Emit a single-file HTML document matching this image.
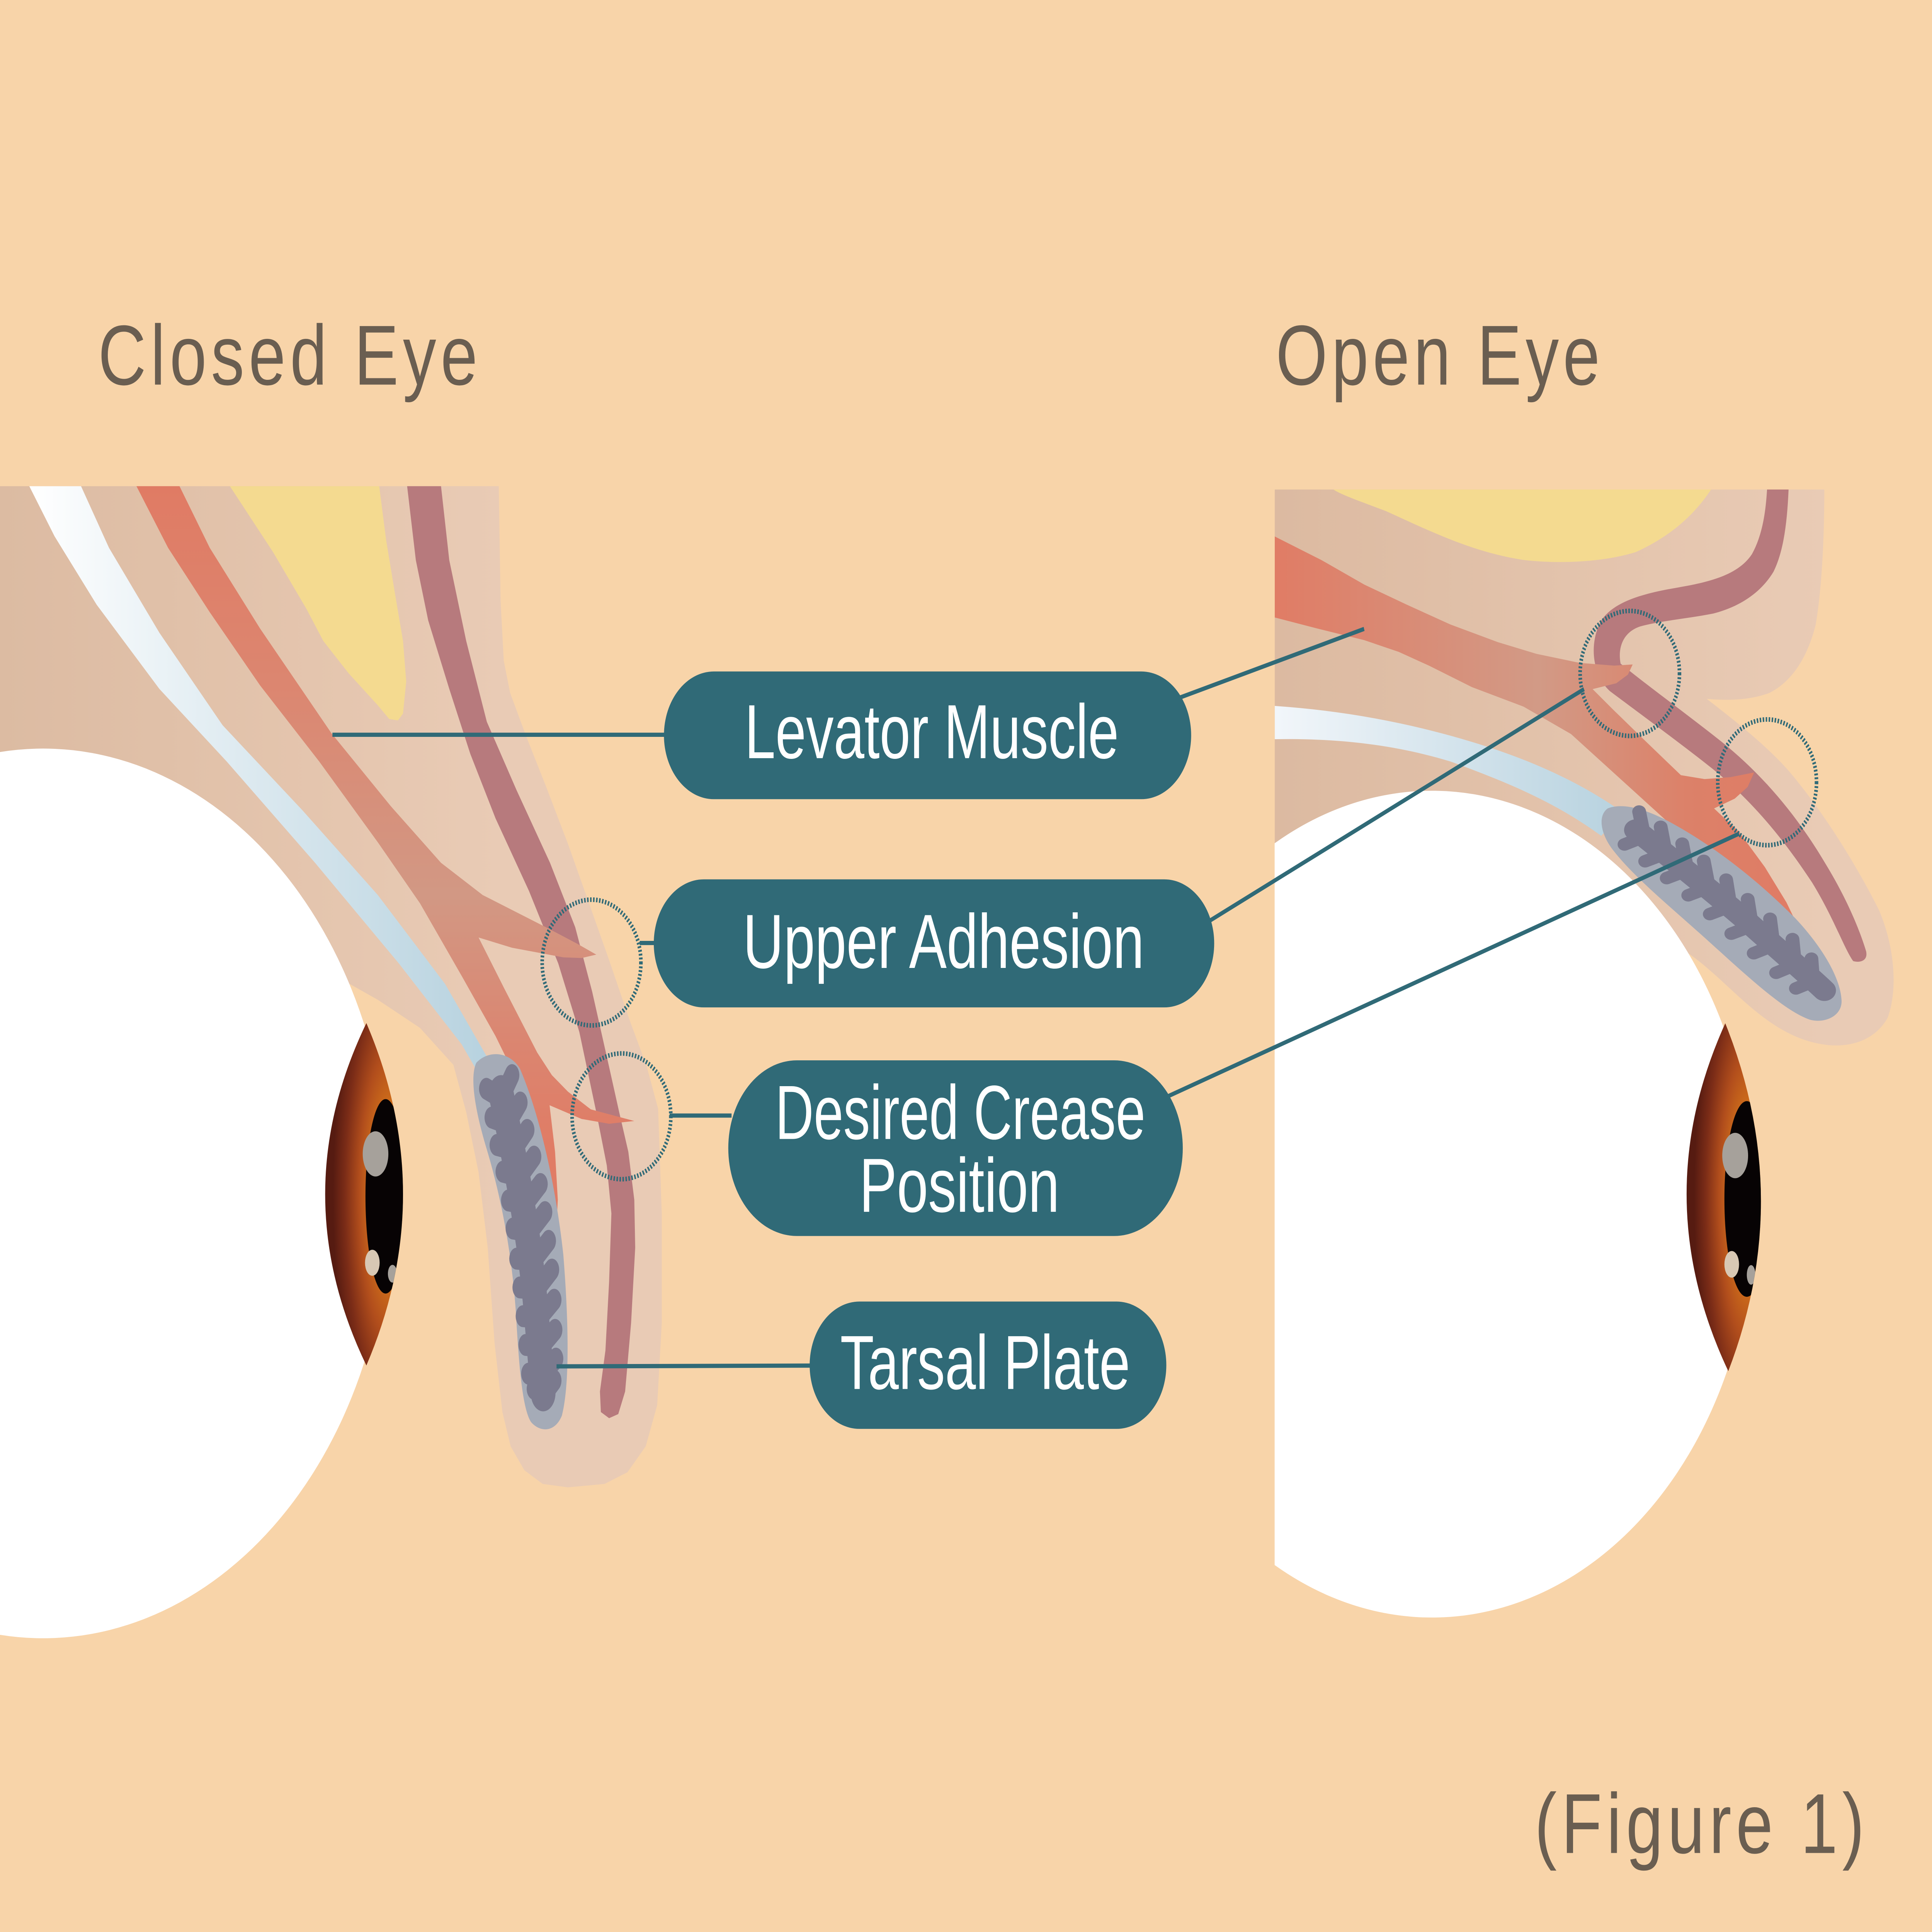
<!DOCTYPE html>
<html>
<head>
<meta charset="utf-8">
<style>
html,body{margin:0;padding:0;background:#F8D4A9;width:100%;height:100%;overflow:hidden;}
svg{display:block;position:fixed;left:0;top:0;width:100vw;height:100vh;}
</style>
</head>
<body>
<svg xmlns="http://www.w3.org/2000/svg" viewBox="0 0 6457 5038" preserveAspectRatio="none">
<defs>
  <linearGradient id="skinC" gradientUnits="userSpaceOnUse" x1="0" y1="0" x2="1090" y2="0">
    <stop offset="0" stop-color="#DCBBA2"/>
    <stop offset="1" stop-color="#E9CBB5"/>
  </linearGradient>
  <linearGradient id="skinO" gradientUnits="userSpaceOnUse" x1="42" y1="0" x2="1318" y2="0">
    <stop offset="0" stop-color="#DCBAA1"/>
    <stop offset="1" stop-color="#E9CBB5"/>
  </linearGradient>
  <linearGradient id="blueC" gradientUnits="userSpaceOnUse" x1="64" y1="0" x2="1063" y2="0">
    <stop offset="0" stop-color="#FFFFFF"/>
    <stop offset="1" stop-color="#B7D2DF"/>
  </linearGradient>
  <linearGradient id="blueO" gradientUnits="userSpaceOnUse" x1="42" y1="0" x2="850" y2="0">
    <stop offset="0" stop-color="#F2F6FA"/>
    <stop offset="1" stop-color="#B7D2DF"/>
  </linearGradient>
  <linearGradient id="orC" gradientUnits="userSpaceOnUse" x1="0" y1="38" x2="0" y2="1000">
    <stop offset="0" stop-color="#E07B64"/>
    <stop offset="0.3" stop-color="#DC8670"/>
    <stop offset="0.62" stop-color="#D29884"/>
    <stop offset="0.85" stop-color="#DB8570"/>
    <stop offset="1" stop-color="#E07C65"/>
  </linearGradient>
  <linearGradient id="orO" gradientUnits="userSpaceOnUse" x1="42" y1="0" x2="1265" y2="0">
    <stop offset="0" stop-color="#E07C65"/>
    <stop offset="0.5" stop-color="#D29A86"/>
    <stop offset="0.78" stop-color="#DC8169"/>
    <stop offset="1" stop-color="#E07B64"/>
  </linearGradient>
  <radialGradient id="iris" cx="0.85" cy="0.5" r="0.75" fx="0.85" fy="0.5">
    <stop offset="0" stop-color="#F0A035"/>
    <stop offset="0.3" stop-color="#D4741A"/>
    <stop offset="0.55" stop-color="#B24E1C"/>
    <stop offset="0.8" stop-color="#7B2C17"/>
    <stop offset="1" stop-color="#561B11"/>
  </radialGradient>
  <clipPath id="lensC"><path d="M800,822 Q620,1072 800,1322 Q960,1072 800,822 Z"/></clipPath>
  <clipPath id="lensO"><path d="M1088,-31 Q905,414 1095,858 Q1250,414 1088,-31 Z"/></clipPath>
</defs>

<rect x="0" y="0" width="6457" height="5038" fill="#F8D4A9"/>

<!-- Titles -->
<g font-family="'Liberation Sans', sans-serif" font-size="222" fill="#6A5E51">
  <text x="328" y="1003" textLength="1268">Closed Eye</text>
  <text x="4264" y="1003" textLength="1083">Open Eye</text>
  <text x="5129" y="4832" textLength="1102">(Figure 1)</text>
</g>

<!-- ================= CLOSED EYE ================= -->
<g transform="translate(0,1200) scale(1.5306,1.7857)">
  <path fill="url(#skinC)" d="M0,38 L1089,38 L1091,120 L1093,205 L1100,293 L1114,340 L1150,405 L1192,476 L1240,560 L1283,641 L1330,730 L1375,818 L1412,885 L1437,947 L1445,1100 L1445,1260 L1435,1380 L1410,1440 L1370,1478 L1320,1495 L1240,1500 L1185,1495 L1145,1475 L1115,1440 L1097,1390 L1080,1290 L1065,1150 L1045,1040 L1018,952 L990,883 L917,829 L825,788 L756,762 L500,600 L0,426 Z"/>
</g>
<path fill="#FFFFFF" d="M0,1961 A1160,1160 0 1 1 0,4263 Z"/>
<g transform="translate(0,1200) scale(1.5306,1.7857)">
  <path fill="#F4DA90" d="M502,38 L828,38 L843,116 L862,193 L880,264 L887,323 L880,370 L869,380 L850,378 L825,358 L761,311 L706,264 L669,217 L596,134 Z"/>
  <path fill="url(#blueC)" d="M64,38 L119,111 L211,211 L348,334 L495,440 L688,588 L871,735 L1008,853 L1040,890 L1070,880 L1063,871 L972,765 L825,635 L660,511 L486,387 L348,252 L238,128 L177,38 Z"/>
  <path fill="#B77A7D" d="M889,38 L908,146 L935,234 L981,334 L1027,429 L1082,523 L1155,629 L1219,735 L1265,835 L1302,952 L1325,1030 L1335,1100 L1330,1200 L1322,1300 L1310,1360 L1312,1390 L1330,1399 L1350,1393 L1365,1360 L1378,1260 L1387,1150 L1385,1080 L1372,1010 L1352,952 L1329,883 L1293,776 L1256,682 L1201,588 L1128,482 L1063,382 L1018,264 L981,146 L963,38 Z"/>
  <path fill="url(#orC)" d="M298,38 L392,38 L458,128 L568,246 L724,399 L853,505 L963,588 L1054,635 L1192,682 L1260,706 L1302,722 L1270,727 L1230,726 L1118,712 L1045,697 L1100,770 L1173,865 L1205,898 L1240,922 L1290,948 L1385,965 L1330,969 L1270,962 L1200,942 L1212,1010 L1218,1080 L1215,1120 L1195,1050 L1170,980 L1140,920 L1082,841 L1008,753 L917,647 L825,558 L697,440 L568,329 L458,222 L367,128 Z"/>
  <path fill="#A5ABB7" d="M1040,880 C1065,862 1110,862 1135,888 C1175,950 1212,1050 1230,1160 C1242,1260 1244,1350 1227,1395 C1212,1420 1180,1420 1160,1405 C1140,1385 1133,1320 1126,1240 C1116,1150 1092,1070 1060,1000 C1036,945 1026,900 1040,880 Z"/>
  <g stroke="#7B7A8E" fill="none" stroke-linecap="round" stroke-linejoin="round">
    <path stroke-width="54" d="M1094,925 C1122,1010 1152,1120 1166,1210 C1176,1280 1181,1330 1186,1362"/>
    <path stroke-width="32" d="M1092,930 l-30,-12 M1096,930 l22,-32 M1106,968 l-32,-8 M1110,968 l26,-30 M1119,1006 l-34,-6 M1123,1006 l28,-28 M1132,1045 l-34,-6 M1136,1045 l30,-28 M1144,1085 l-34,-4 M1148,1085 l32,-28 M1154,1126 l-34,-4 M1158,1126 l32,-28 M1162,1168 l-34,-2 M1166,1168 l32,-28 M1169,1210 l-34,-2 M1173,1210 l32,-28 M1174,1252 l-32,-2 M1178,1252 l32,-26 M1178,1294 l-30,-2 M1182,1294 l30,-24 M1182,1334 l-28,0 M1186,1334 l28,-22 M1186,1362 l-20,-6 M1190,1362 l20,-18"/>
  </g>
  <path fill="url(#iris)" d="M800,822 Q620,1072 800,1322 Q960,1072 800,822 Z"/>
  <g clip-path="url(#lensC)">
    <ellipse cx="842" cy="1075" rx="44" ry="142" fill="#070304"/>
    <ellipse cx="820" cy="1013" rx="28" ry="33" fill="#A6A19B"/>
    <ellipse cx="813" cy="1172" rx="16" ry="19" fill="#D8C8B4"/>
    <ellipse cx="857" cy="1188" rx="10" ry="13" fill="#A6A19B"/>
  </g>
</g>

<!-- ================= OPEN EYE ================= -->
<g transform="translate(4200,1200) scale(1.4394,1.0204)">
  <path fill="url(#skinO)" d="M42,75 L1318,75 C1318,200 1312,330 1298,420 C1280,500 1245,565 1190,595 C1140,615 1090,614 1045,610 C1110,665 1190,735 1240,800 C1320,905 1395,1040 1445,1150 C1480,1240 1490,1350 1465,1425 C1440,1475 1390,1500 1330,1495 C1260,1488 1205,1450 1155,1405 C1105,1360 1055,1300 1002,1260 L700,1100 L42,1000 Z"/>
</g>
<path fill="#FFFFFF" d="M4260,2199 A1078,1078 0 1 1 4260,4081 Z"/>
<g transform="translate(4200,1200) scale(1.4394,1.0204)">
  <path fill="#F4DA90" d="M178,75 L1055,75 C1010,150 950,200 880,235 C800,262 700,265 620,255 C500,235 400,180 300,130 C240,105 200,90 178,75 Z"/>
  <path fill="url(#blueO)" d="M42,628 C200,640 350,670 500,720 C650,770 760,830 850,900 L800,960 C700,880 600,830 450,770 C330,730 200,710 42,713 Z"/>
  <path fill="#B77A7D" d="M1185,75 L1235,75 C1232,150 1225,230 1200,285 C1170,340 1120,375 1060,392 C1000,405 940,410 890,425 C850,440 838,480 845,520 C900,570 1000,650 1080,720 C1170,800 1250,900 1320,1030 C1370,1120 1400,1200 1415,1255 C1420,1280 1400,1285 1385,1280 C1365,1250 1340,1170 1290,1080 C1230,980 1160,880 1060,790 C980,720 880,640 820,590 C780,550 770,470 800,410 C830,360 900,340 980,325 C1060,310 1120,290 1150,240 C1175,190 1182,130 1185,75 Z"/>
  <path fill="url(#orO)" d="M42,195 L150,255 L250,318 L350,370 L450,420 L560,465 L650,495 L750,518 L830,525 L873,522 L862,548 L835,570 L780,585 L830,640 L900,715 L985,805 L1040,815 L1100,810 L1155,798 L1140,835 L1110,865 L1062,890 L1120,950 L1180,1040 L1230,1130 L1265,1210 L1210,1160 L1120,1080 L1020,990 L920,890 L830,800 L730,700 L620,630 L500,580 L400,525 L330,490 L250,460 L140,430 L42,402 Z"/>
  <path fill="#A5ABB7" d="M815,890 C850,875 900,890 960,925 C1060,985 1160,1070 1250,1170 C1310,1240 1355,1320 1358,1380 C1360,1420 1320,1440 1285,1430 C1230,1410 1150,1330 1060,1240 C970,1150 880,1070 830,1000 C800,960 790,910 815,890 Z"/>
  <g stroke="#7B7A8E" fill="none" stroke-linecap="round" stroke-linejoin="round">
    <path stroke-width="54" d="M880,945 C960,1015 1050,1095 1130,1170 C1200,1240 1265,1300 1318,1355"/>
    <path stroke-width="32" d="M900,962 l-12,-64 M900,962 l-46,20 M950,1005 l-12,-68 M950,1005 l-48,20 M1000,1048 l-12,-68 M1000,1048 l-48,20 M1050,1092 l-12,-68 M1050,1092 l-48,20 M1100,1140 l-10,-68 M1100,1140 l-48,20 M1150,1190 l-10,-68 M1150,1190 l-48,20 M1200,1240 l-8,-68 M1200,1240 l-46,20 M1250,1290 l-6,-66 M1250,1290 l-44,20 M1292,1332 l-4,-58 M1292,1332 l-40,18"/>
  </g>
</g>
<g transform="translate(4200,2700) scale(1.4394,1.0204)">
  <path fill="url(#iris)" d="M1088,-31 Q905,414 1095,858 Q1250,414 1088,-31 Z"/>
  <g clip-path="url(#lensO)">
    <ellipse cx="1138" cy="418" rx="52" ry="250" fill="#070304"/>
    <ellipse cx="1111" cy="307" rx="30" ry="58" fill="#A6A19B"/>
    <ellipse cx="1103" cy="585" rx="17" ry="34" fill="#D8C8B4"/>
    <ellipse cx="1148" cy="612" rx="10" ry="25" fill="#A6A19B"/>
  </g>
</g>

<!-- ================= CONNECTORS ================= -->
<g stroke="#306A77" stroke-width="11" fill="none">
  <line x1="1111" y1="1916" x2="2225" y2="1916"/>
  <line x1="3940" y1="1820" x2="4559" y2="1640"/>
  <line x1="2138" y1="2459" x2="2195" y2="2459"/>
  <line x1="4045" y1="2400" x2="5294" y2="1797"/>
  <line x1="2238" y1="2909" x2="2445" y2="2909"/>
  <line x1="3900" y1="2860" x2="5812" y2="2174"/>
  <line x1="1860" y1="3563" x2="2712" y2="3561"/>
</g>
<g stroke="#306A77" stroke-width="12" fill="none" stroke-dasharray="5 5">
  <ellipse cx="1977" cy="2510" rx="165" ry="164"/>
  <ellipse cx="2077" cy="2911" rx="165" ry="164"/>
  <ellipse cx="5447" cy="1756" rx="166" ry="163"/>
  <ellipse cx="5906" cy="2040" rx="165" ry="164"/>
</g>

<!-- ================= LABELS ================= -->
<g fill="#306A77">
  <rect x="2219" y="1751" width="1762" height="333" rx="166.5" ry="166.5"/>
  <rect x="2185" y="2293" width="1873" height="334" rx="167" ry="167"/>
  <rect x="2434" y="2765" width="1519" height="458" rx="229" ry="229"/>
  <rect x="2706" y="3394" width="1192" height="332" rx="166" ry="166"/>
</g>
<g font-family="'Liberation Sans', sans-serif" font-size="200" fill="#FFFFFF">
  <text x="2489" y="1977" textLength="1250" lengthAdjust="spacingAndGlyphs">Levator Muscle</text>
  <text x="2483" y="2524" textLength="1341" lengthAdjust="spacingAndGlyphs">Upper Adhesion</text>
  <text x="2591" y="2970" textLength="1237" lengthAdjust="spacingAndGlyphs">Desired Crease</text>
  <text x="2872" y="3160" textLength="669" lengthAdjust="spacingAndGlyphs">Position</text>
  <text x="2808" y="3622" textLength="969" lengthAdjust="spacingAndGlyphs">Tarsal Plate</text>
</g>
</svg>
</body>
</html>
